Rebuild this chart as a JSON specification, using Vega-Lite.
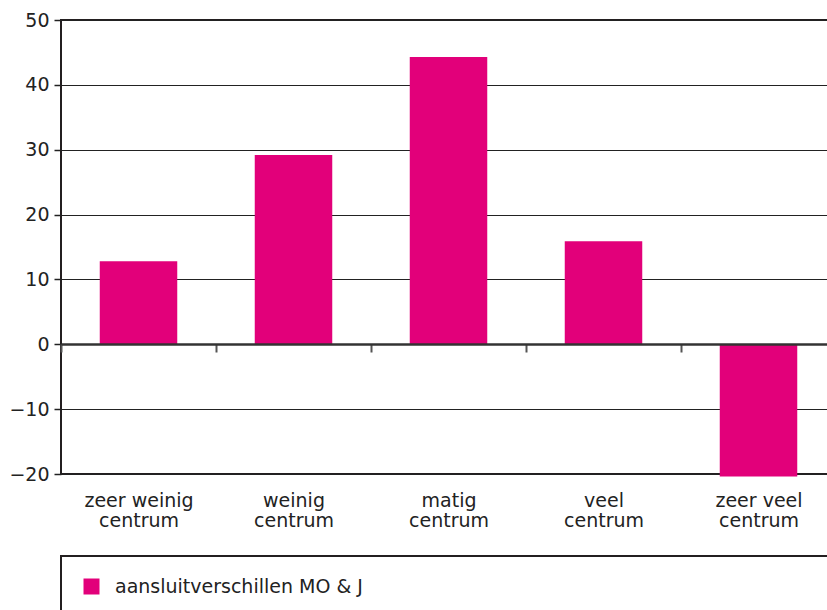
{
  "$schema": "https://vega.github.io/schema/vega-lite/v6.json",
  "padding": {"left": 7, "top": 10, "right": 0, "bottom": 0},
  "background": "white",
  "config": {
    "font": "DejaVu Sans",
    "view": {"stroke": "#231f20", "strokeWidth": 2}
  },
  "bounds": "flush",
  "spacing": 82,
  "resolve": {"legend": {"color": "independent"}},
  "vconcat": [
    {
      "width": 775,
      "height": 454,
      "data": {
        "values": [
          {"cat": "zeer weinig centrum", "value": 12.8},
          {"cat": "weinig centrum", "value": 29.2},
          {"cat": "matig centrum", "value": 44.3},
          {"cat": "veel centrum", "value": 15.9},
          {"cat": "zeer veel centrum", "value": -20.4}
        ]
      },
      "mark": {"type": "bar", "color": "#e2007a", "width": {"band": 0.5}},
      "encoding": {
        "x": {
          "field": "cat",
          "type": "nominal",
          "sort": null,
          "scale": {"paddingInner": 0, "paddingOuter": 0},
          "axis": {
            "title": null,
            "orient": "bottom",
            "offset": -130,
            "zindex": 1,
            "grid": false,
            "domainColor": "#333333",
            "domainWidth": 2.5,
            "tickBand": "extent",
            "tickSize": 8,
            "tickWidth": 2,
            "tickColor": "#555555",
            "labelPadding": 139,
            "labelAngle": 0,
            "labelFontSize": 19,
            "labelColor": "#222222",
            "labelLineHeight": 20,
            "labelExpr": "datum.label ? [slice(datum.label, 0, indexof(datum.label, ' centrum')), 'centrum'] : ''"
          }
        },
        "y": {
          "field": "value",
          "type": "quantitative",
          "scale": {"domain": [-20, 50], "nice": false},
          "axis": {
            "title": null,
            "values": [-20, -10, 0, 10, 20, 30, 40, 50],
            "grid": true,
            "gridColor": "#222222",
            "gridWidth": 1,
            "domain": false,
            "tickSize": 7,
            "tickColor": "#222222",
            "tickWidth": 1.5,
            "labelFontSize": 19,
            "labelColor": "#222222",
            "labelPadding": 5
          }
        }
      }
    },
    {
      "width": 800,
      "height": 56,
      "view": {"style": "cell", "stroke": "#231f20", "strokeWidth": 2},
      "data": {"values": [{"series": "aansluitverschillen MO & J"}]},
      "mark": {"type": "square", "opacity": 0},
      "encoding": {
        "color": {
          "field": "series",
          "type": "nominal",
          "scale": {"range": ["#e2007a"]},
          "legend": {
            "title": null,
            "orient": "top-left",
            "offset": 21,
            "padding": 0,
            "symbolType": "square",
            "symbolSize": 256,
            "symbolStrokeWidth": 0,
            "symbolOpacity": 1,
            "labelFontSize": 19,
            "labelColor": "#222222",
            "labelOffset": 14,
            "labelLimit": 500
          }
        }
      }
    }
  ]
}
